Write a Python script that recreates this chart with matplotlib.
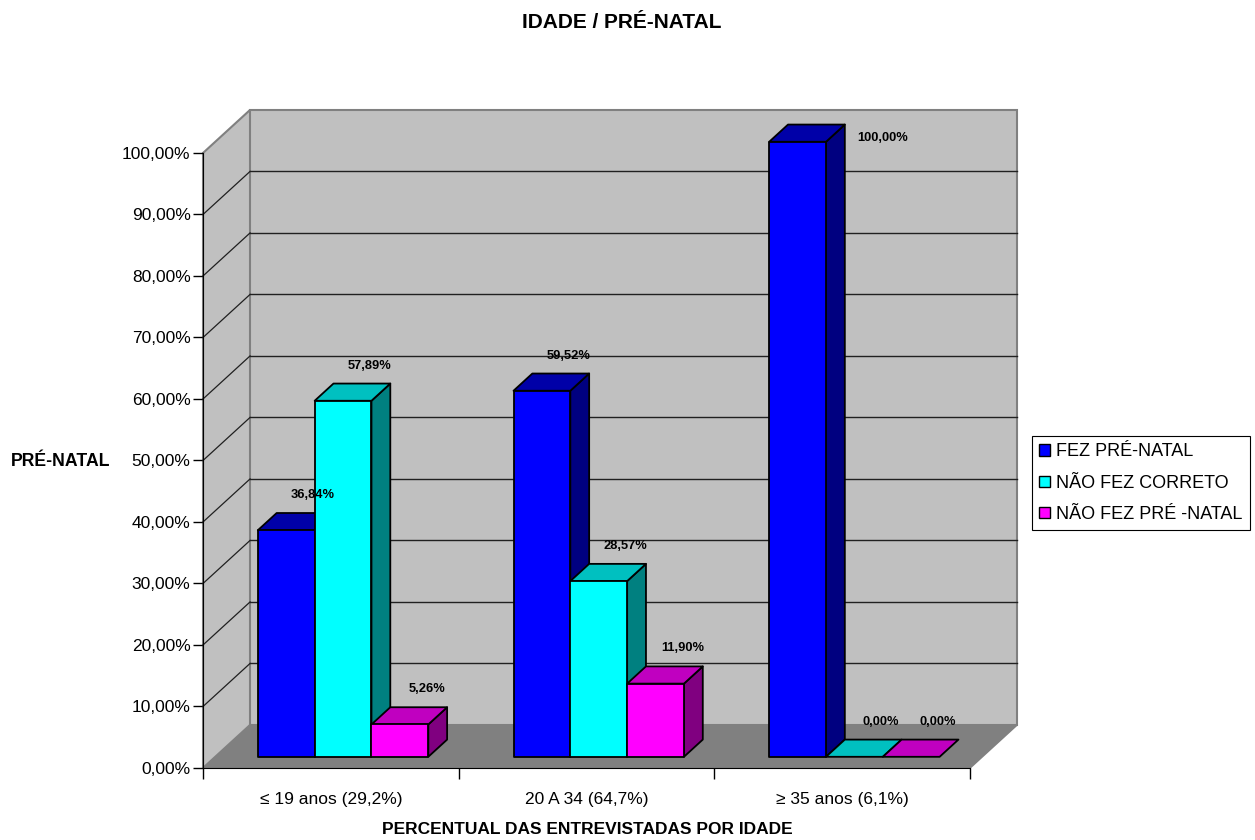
import numpy as np
import matplotlib.pyplot as plt
from matplotlib.patches import Polygon, Patch

plt.rcParams['font.family'] = ['Liberation Sans', 'DejaVu Sans']

categorias = ['≤ 19 anos (29,2%)', '20 A 34 (64,7%)', '≥ 35 anos (6,1%)']
series = ['FEZ PRÉ-NATAL', 'NÃO FEZ CORRETO', 'NÃO FEZ PRÉ -NATAL']
fez_prenatal = [36.84, 59.52, 100.00]
nao_fez_correto = [57.89, 28.57, 0.00]
nao_fez_prenatal = [5.26, 11.90, 0.00]
yticks = np.arange(0, 101, 10)

valores = [fez_prenatal, nao_fez_correto, nao_fez_prenatal]
cor_frente = ['#0000ff', '#00ffff', '#ff00ff']
cor_topo = ['#0000a8', '#00c0c0', '#c000c0']
cor_lado = ['#000080', '#008080', '#800080']

# profundidade obliqua (em unidades de dados) e posicao das barras nela
DX, DY = 0.184, 7.0
D0, D1 = 0.26, 0.66
W = 1 / 4.5   # largura da barra, gap de 150%


def proj(x, y, d):
    return (x + d * DX, y + d * DY)


fig = plt.figure(figsize=(12.55, 8.4), dpi=100)
ax = fig.add_axes([150 / 1255, 40 / 840, 880 / 1255, 710 / 840])
ax.set_xlim(-0.2073, 3.2346)
ax.set_ylim(-5.203, 110.24)

# paredes e piso
ax.add_patch(Polygon([proj(0, 0, 0), proj(3, 0, 0), proj(3, 0, 1), proj(0, 0, 1)],
                     fc='#808080', ec='#808080', lw=1.2, zorder=1))
ax.add_patch(Polygon([proj(0, 0, 0), proj(0, 0, 1), proj(0, 100, 1), proj(0, 100, 0)],
                     fc='#c0c0c0', ec='#808080', lw=1.5, zorder=1))
ax.add_patch(Polygon([proj(0, 0, 1), proj(3, 0, 1), proj(3, 100, 1), proj(0, 100, 1)],
                     fc='#c0c0c0', ec='#808080', lw=1.5, zorder=1))
for v in yticks[1:-1]:
    a, b = proj(0, v, 1), proj(3, v, 1)
    ax.plot([a[0], b[0]], [a[1], b[1]], color='#202020', lw=1.0, zorder=2)
    c = proj(0, v, 0)
    ax.plot([c[0], a[0]], [c[1], a[1]], color='#202020', lw=0.9, zorder=2)

# barras 3D
z = 3
for i in range(len(categorias)):
    for j, vals in enumerate(valores):
        v = vals[i]
        x0 = i + 0.75 * W + j * W
        x1 = x0 + W
        topo = [proj(x0, v, D0), proj(x1, v, D0), proj(x1, v, D1), proj(x0, v, D1)]
        if v > 0:
            lado = [proj(x1, 0, D0), proj(x1, 0, D1), proj(x1, v, D1), proj(x1, v, D0)]
            frente = [proj(x0, 0, D0), proj(x1, 0, D0), proj(x1, v, D0), proj(x0, v, D0)]
            ax.add_patch(Polygon(lado, fc=cor_lado[j], ec='black', lw=1.3,
                                 joinstyle='round', zorder=z))
            ax.add_patch(Polygon(topo, fc=cor_topo[j], ec='black', lw=1.3,
                                 joinstyle='round', zorder=z))
            ax.add_patch(Polygon(frente, fc=cor_frente[j], ec='black', lw=1.3,
                                 joinstyle='round', zorder=z))
        else:
            ax.add_patch(Polygon(topo, fc=cor_topo[j], ec='black', lw=1.3,
                                 joinstyle='round', zorder=z))
        z += 1

        rotulo = f'{v:.2f}%'.replace('.', ',')
        if v >= 95:
            ax.annotate(rotulo, proj(x1, v, D1), xytext=(12, -13),
                        textcoords='offset pixels', ha='left', va='center',
                        fontsize=9.3, fontweight='bold', zorder=50)
        else:
            ax.annotate(rotulo, proj((x0 + x1) / 2, v, D1), xytext=(8, 18),
                        textcoords='offset pixels', ha='center', va='center',
                        fontsize=9.3, fontweight='bold', zorder=50)

# eixos
for s in ['top', 'right']:
    ax.spines[s].set_visible(False)
ax.spines['left'].set_position(('data', 0))
ax.spines['left'].set_bounds(0, 100)
ax.spines['bottom'].set_position(('data', 0))
ax.spines['bottom'].set_bounds(0, 3)
ax.spines['left'].set_zorder(60)
ax.spines['bottom'].set_zorder(60)

ax.set_yticks(yticks)
ax.set_yticklabels([f'{v:.2f}%'.replace('.', ',') for v in yticks], fontsize=12.5)
ax.tick_params(axis='y', direction='out', length=7, width=1, pad=2)

ax.set_xticks([0, 1, 2, 3])
ax.set_xticklabels([])
ax.set_xticks([0.5, 1.5, 2.5], minor=True)
ax.set_xticklabels(categorias, minor=True, fontsize=12.5)
ax.tick_params(axis='x', which='major', direction='out', length=8, width=1)
ax.tick_params(axis='x', which='minor', length=0, pad=17)

fig.text(622 / 1255, 1 - 22 / 840, 'IDADE / PRÉ-NATAL', ha='center', va='center',
         fontsize=15, fontweight='bold')
fig.text(61 / 1255, 1 - 461 / 840, 'PRÉ-NATAL', ha='center', va='center',
         fontsize=12.7, fontweight='bold')
fig.text(587 / 1255, 1 - 829 / 840, 'PERCENTUAL DAS ENTREVISTADAS POR IDADE',
         ha='center', va='center', fontsize=12.5, fontweight='bold')

handles = [Patch(fc=c, ec='black', lw=1) for c in cor_frente]
leg = fig.legend(handles, series, loc='upper left',
                 bbox_to_anchor=(1032 / 1255, 1 - 436 / 840), fontsize=13,
                 fancybox=False, edgecolor='black', framealpha=1,
                 handlelength=0.6, handleheight=0.6, handletextpad=0.35,
                 labelspacing=0.8, borderpad=0.4, borderaxespad=0)
leg.get_frame().set_linewidth(0.8)

fig.savefig('out.png', dpi=100)
